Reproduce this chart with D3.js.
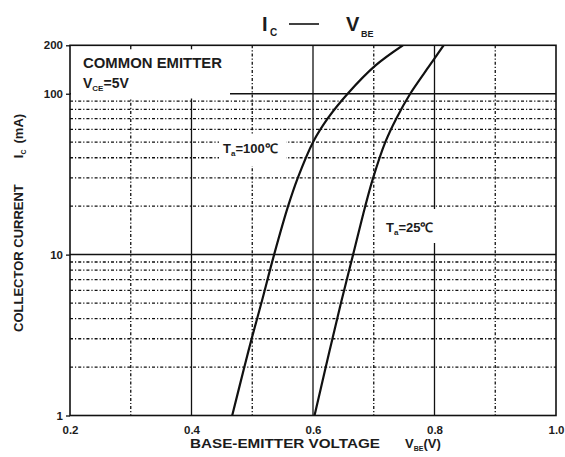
<!DOCTYPE html>
<html>
<head>
<meta charset="utf-8">
<script src="https://cdn.jsdelivr.net/npm/d3@7"></script>
<style>
  body { margin: 0; background: #fff; }
  svg text { font-family: "Liberation Sans", Arial, sans-serif; font-weight: bold; fill: #1c1c1c; }
</style>
</head>
<body>
<script>
// collector current (mA), with base-emitter voltage (V) for each curve
var currentMA = [1, 2, 3, 5, 10, 20, 30, 50, 70, 100, 150, 200];
var vbe100 = [0.467, 0.487, 0.499, 0.515, 0.536, 0.559, 0.575, 0.600, 0.624, 0.657, 0.703, 0.748];
var vbe25 = [0.6025, 0.621, 0.632, 0.646, 0.666, 0.686, 0.699, 0.719, 0.737, 0.760, 0.792, 0.815];

var xTicks = [0.2, 0.4, 0.6, 0.8, 1.0];
var xSolid = [0.4, 0.6, 0.8];
var xDotted = [0.3, 0.5, 0.7, 0.9];
var yTicks = [1, 10, 100, 200];
var ySolid = [10, 100];
var yDotted = [2, 3, 4, 5, 6, 7, 8, 9, 20, 30, 40, 50, 60, 70, 80, 90];

var width = 565, height = 457;
var pLeft = 70, pRight = 556, pTop = 45.3, pBottom = 415.5;

var x = d3.scaleLinear().domain([0.2, 1.0]).range([pLeft, pRight]);
var y = d3.scaleLog().domain([1, 200]).range([pBottom, pTop]);

var svg = d3.select("body").append("svg")
    .attr("width", width)
    .attr("height", height);

svg.append("clipPath")
        .attr("id", "clip")
    .append("rect")
        .attr("x", pLeft)
        .attr("y", pTop)
        .attr("width", pRight - pLeft)
        .attr("height", pBottom - pTop);

var grid = svg.append("g").attr("class", "grid");

// dash-dot grid lines
grid.selectAll("line.vdot").data(xDotted).enter().append("line")
    .attr("x1", function(d) { return x(d); })
    .attr("x2", function(d) { return x(d); })
    .attr("y1", pTop).attr("y2", pBottom)
    .attr("stroke", "#111").attr("stroke-width", 1.3)
    .attr("stroke-dasharray", "3,2,1.2,2");

grid.selectAll("line.hdot").data(yDotted).enter().append("line")
    .attr("x1", pLeft).attr("x2", pRight)
    .attr("y1", function(d) { return y(d); })
    .attr("y2", function(d) { return y(d); })
    .attr("stroke", "#111").attr("stroke-width", 1.3)
    .attr("stroke-dasharray", "3,2,1.2,2");

grid.selectAll("line.vsolid").data(xSolid).enter().append("line")
    .attr("x1", function(d) { return x(d); })
    .attr("x2", function(d) { return x(d); })
    .attr("y1", pTop).attr("y2", pBottom)
    .attr("stroke", "#111").attr("stroke-width", 1.3);

grid.selectAll("line.hsolid").data(ySolid).enter().append("line")
    .attr("x1", pLeft).attr("x2", pRight)
    .attr("y1", function(d) { return y(d); })
    .attr("y2", function(d) { return y(d); })
    .attr("stroke", "#111").attr("stroke-width", 1.5);

// white boxes behind the annotations
svg.append("rect").attr("x", pLeft + 1).attr("y", pTop + 1)
    .attr("width", 230 - pLeft - 1).attr("height", 98.5 - pTop - 1)
    .attr("fill", "#fff");
svg.append("rect").attr("x", 219).attr("y", 134)
    .attr("width", 67).attr("height", 32).attr("fill", "#fff");
svg.append("rect").attr("x", 383).attr("y", 209)
    .attr("width", 62).attr("height", 34).attr("fill", "#fff");

// little ticks under the top border inside the box
svg.selectAll("line.toptick").data([0.3, 0.4]).enter().append("line")
    .attr("x1", function(d) { return x(d); })
    .attr("x2", function(d) { return x(d); })
    .attr("y1", pTop).attr("y2", pTop + 4)
    .attr("stroke", "#111").attr("stroke-width", 1.3);

// curves
var line = d3.line()
    .x(function(d) { return x(d[0]); })
    .y(function(d) { return y(d[1]); })
    .curve(d3.curveCatmullRom);

var curves = [d3.zip(vbe100, currentMA), d3.zip(vbe25, currentMA)];

svg.append("g")
        .attr("clip-path", "url(#clip)")
    .selectAll("path").data(curves).enter().append("path")
        .attr("d", line)
        .attr("fill", "none")
        .attr("stroke", "#111")
        .attr("stroke-width", 2.2);

// frame
svg.append("rect")
    .attr("x", pLeft).attr("y", pTop)
    .attr("width", pRight - pLeft).attr("height", pBottom - pTop)
    .attr("fill", "none").attr("stroke", "#111").attr("stroke-width", 1.6);

// axes
var xAxis = d3.axisBottom(x).tickValues(xTicks).tickSize(0).tickPadding(10)
    .tickFormat(d3.format(".1f"));
var yAxis = d3.axisLeft(y).tickValues(yTicks).tickSize(4).tickPadding(3)
    .tickFormat(d3.format("d"));

svg.append("g")
    .attr("class", "x axis")
    .attr("transform", "translate(0," + pBottom + ")")
    .call(xAxis)
    .call(function(g) { g.select(".domain").remove(); })
    .call(function(g) {
        g.selectAll("text").style("font-size", "11.5px")
            .attr("fill", "#1c1c1c").style("font-family", null);
    });

svg.append("g")
    .attr("class", "y axis")
    .attr("transform", "translate(" + pLeft + ",0)")
    .call(yAxis)
    .call(function(g) { g.select(".domain").remove(); })
    .call(function(g) {
        g.selectAll("line").attr("stroke", "#111").attr("stroke-width", 1.3);
        g.selectAll("text").style("font-size", "11.5px")
            .attr("fill", "#1c1c1c").style("font-family", null);
    });

// title
svg.append("text").attr("x", 262).attr("y", 31).style("font-size", "20px").text("I");
svg.append("text").attr("x", 270).attr("y", 36).style("font-size", "10px").text("C");
svg.append("line").attr("x1", 289).attr("x2", 319).attr("y1", 24).attr("y2", 24)
    .attr("stroke", "#111").attr("stroke-width", 1.6);
svg.append("text").attr("x", 346).attr("y", 31).style("font-size", "20px").text("V");
svg.append("text").attr("x", 361).attr("y", 37).style("font-size", "9px").text("BE");

// annotation box
svg.append("text").attr("x", 83).attr("y", 68).style("font-size", "14px")
    .attr("textLength", 139).attr("lengthAdjust", "spacingAndGlyphs")
    .text("COMMON EMITTER");
var vce = svg.append("text").attr("x", 83).attr("y", 88).style("font-size", "14px");
vce.append("tspan").text("V");
vce.append("tspan").attr("dy", 3).style("font-size", "8px").text("CE");
vce.append("tspan").attr("dy", -3).text("=5V");

// curve labels
var t100 = svg.append("text").attr("x", 223).attr("y", 153).style("font-size", "13px");
t100.append("tspan").text("T");
t100.append("tspan").attr("dy", 3).style("font-size", "8px").text("a");
t100.append("tspan").attr("dy", -3).text("=100\u2103");

var t25 = svg.append("text").attr("x", 386).attr("y", 232).style("font-size", "13px");
t25.append("tspan").text("T");
t25.append("tspan").attr("dy", 3).style("font-size", "8px").text("a");
t25.append("tspan").attr("dy", -3).text("=25\u2103");

// axis titles
svg.append("text").attr("x", 190).attr("y", 448).style("font-size", "13px")
    .attr("textLength", 190).attr("lengthAdjust", "spacingAndGlyphs")
    .text("BASE-EMITTER VOLTAGE");
var vbeT = svg.append("text").attr("x", 405).attr("y", 448).style("font-size", "13px");
vbeT.append("tspan").text("V");
vbeT.append("tspan").attr("dy", 3).style("font-size", "7px").text("BE");
vbeT.append("tspan").attr("dy", -3).text("(V)");

var yT = svg.append("text")
    .attr("transform", "translate(23,332) rotate(-90)")
    .style("font-size", "13px");
yT.append("tspan").text("COLLECTOR CURRENT");
yT.append("tspan").attr("dx", 26).text("I");
yT.append("tspan").attr("dy", 3).style("font-size", "7px").text("C");
yT.append("tspan").attr("dy", -3).attr("dx", 6).text("(mA)");
</script>
</body>
</html>
